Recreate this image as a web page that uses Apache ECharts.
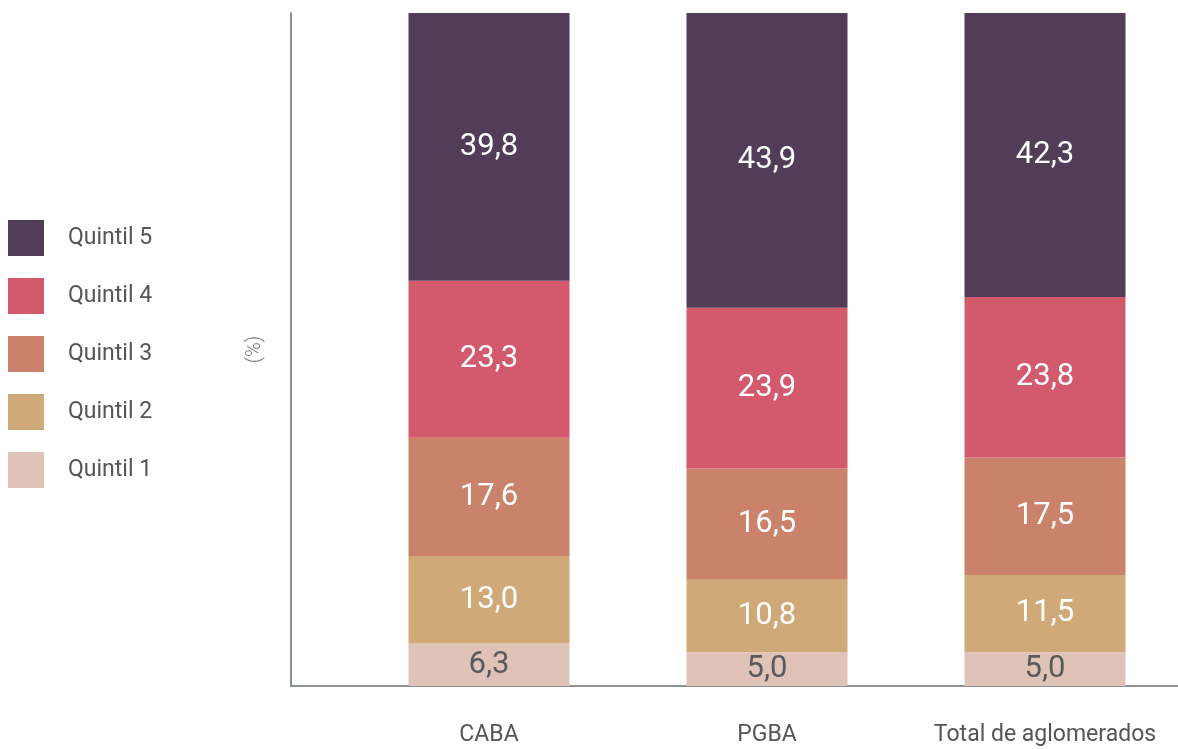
<!DOCTYPE html>
<html>
<head>
<meta charset="utf-8">
<script src="https://cdn.jsdelivr.net/npm/echarts@6/dist/echarts.min.js"></script>
<style>
  html, body { margin: 0; padding: 0; background: #fff; }
  #chart { width: 1178px; height: 749px; }
</style>
</head>
<body>
<div id="chart"></div>
<script>
// datos
var categories = ['CABA', 'PGBA', 'Total de aglomerados'];
var quintil1 = [6.3, 5.0, 5.0];
var quintil2 = [13.0, 10.8, 11.5];
var quintil3 = [17.6, 16.5, 17.5];
var quintil4 = [23.3, 23.9, 23.8];
var quintil5 = [39.8, 43.9, 42.3];
var seriesNames = ['Quintil 1', 'Quintil 2', 'Quintil 3', 'Quintil 4', 'Quintil 5'];

var colors = ['#e0c3b8', '#cfaa78', '#ca826b', '#d3596c', '#513d57'];
var labelColors = ['#5a5a5a', '#fff', '#fff', '#fff', '#fff'];
var axisColor = '#8c9191';
var font = 'Roboto, "Noto Sans", sans-serif';

(function(){
  var myChart = echarts.init(document.getElementById('chart'))
  var values = [quintil1, quintil2, quintil3, quintil4, quintil5]

  var series = seriesNames.map(function(name, i) {
    return {
      name: name,
      type: 'bar',
      stack: 'total',
      xAxisIndex: 0,
      yAxisIndex: 0,
      barWidth: 161,
      data: values[i],
      itemStyle: { color: colors[i] },
      label: {
        show: true,
        position: 'inside',
        color: labelColors[i],
        fontFamily: font,
        fontSize: 31,
        formatter: function(p) {
          return p.value.toFixed(1).replace('.', ',')
        }
      }
    }
  })

  var option = {
    animation: false,
    color: colors,
    legend: {
      orient: 'vertical',
      left: 3,
      top: 215,
      itemWidth: 36,
      itemHeight: 36,
      itemGap: 22,
      icon: 'rect',
      data: ['Quintil 5', 'Quintil 4', 'Quintil 3', 'Quintil 2', 'Quintil 1'],
      textStyle: {
        color: '#555',
        fontFamily: font,
        fontSize: 23,
        padding: [0, 0, 0, 19]
      }
    },
    grid: [
      { left: 350, width: 834, top: 13, bottom: 63, outerBoundsMode: 'none' },
      { left: 291, right: 0, top: 13, bottom: 63, outerBoundsMode: 'none' }
    ],
    xAxis: [{
      type: 'category',
      gridIndex: 0,
      data: categories,
      axisLine: { show: false },
      axisTick: { show: false },
      axisLabel: {
        interval: 0,
        color: '#555',
        fontFamily: font,
        fontSize: 23,
        margin: 38
      }
    }, {
      type: 'value',
      gridIndex: 1,
      min: 0,
      max: 1,
      axisLine: { show: true, lineStyle: { color: axisColor, width: 2 } },
      axisTick: { show: false },
      axisLabel: { show: false },
      splitLine: { show: false }
    }],
    yAxis: [{
      type: 'value',
      gridIndex: 0,
      min: 0,
      max: 100,
      show: false
    }, {
      type: 'value',
      gridIndex: 1,
      min: 0,
      max: 100,
      name: '(%)',
      nameLocation: 'middle',
      nameGap: 26,
      nameTextStyle: { color: '#777', fontFamily: font, fontSize: 20, fontWeight: 300 },
      axisLine: { show: true, lineStyle: { color: axisColor, width: 2 } },
      axisTick: { show: false },
      axisLabel: { show: false },
      splitLine: { show: false }
    }],
    series: series
  }
  myChart.setOption(option)
})();
</script>
</body>
</html>
